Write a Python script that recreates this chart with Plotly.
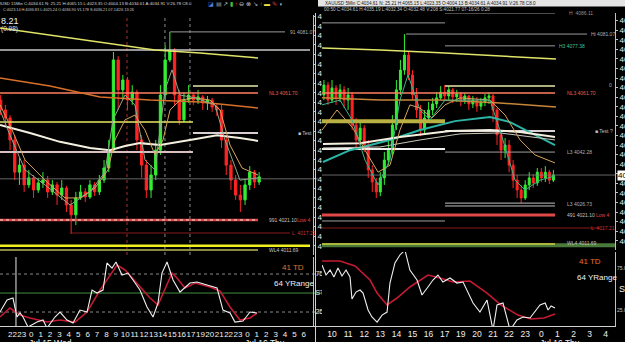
import plotly.graph_objects as go

W, H = 625, 342
def PX(x): return x / W
def PY(y): return 1 - y / H

FONT = "Liberation Sans, Arial, sans-serif"

# ---------------- LEFT: XAUUSD 15 min ----------------
L_hours = ["21","22","23","0","1","2","3","4","5","6","7","8","9","10","11","12","13","14",
           "15","16","17","19","20","21","22","23","0","1","2","3","4","5","6"]
L_time = [-0.25 + 0.5 * i for i in range(56)]
L_open = [4058.7,4055.6,4053.1,4046.2,4036.1,4038.3,4032.1,4034.3,4030.5,4032.7,4033.6,4029.9,4032.1,4028.9,
          4031.1,4025.8,4022.7,4028.0,4029.9,4028.3,4032.1,4029.9,4033.6,4037.4,4043.0,4071.3,4061.9,4065.0,
          4058.7,4061.2,4046.2,4038.3,4030.5,4035.2,4043.0,4060.3,4071.3,4074.4,4060.3,4052.5,4058.7,4060.3,
          4058.7,4059.7,4057.8,4058.7,4056.5,4055.6,4046.2,4038.3,4033.6,4028.9,4027.4,4032.1,4036.1,4033.0]
L_close = [4055.6,4053.1,4046.2,4036.1,4038.3,4032.1,4034.3,4030.5,4032.7,4033.6,4029.9,4032.1,4028.9,4031.1,
           4025.8,4022.7,4028.0,4029.9,4028.3,4032.1,4029.9,4033.6,4037.4,4043.0,4071.3,4061.9,4065.0,4058.7,
           4061.2,4046.2,4038.3,4030.5,4035.2,4043.0,4060.3,4071.3,4074.4,4060.3,4052.5,4058.7,4060.3,4058.7,
           4059.7,4057.8,4058.7,4056.5,4055.6,4046.2,4038.3,4033.6,4028.9,4027.4,4032.1,4036.1,4033.0,4034.6]
L_high = [4060.3,4057.2,4054.0,4047.7,4040.5,4039.9,4036.8,4035.2,4034.3,4036.1,4034.9,4033.6,4033.0,4033.6,
          4031.8,4027.4,4029.9,4032.1,4031.1,4033.6,4033.0,4035.2,4039.9,4046.2,4073.8,4072.5,4066.6,4066.0,
          4063.4,4062.0,4047.7,4039.9,4038.3,4046.2,4063.4,4076.0,4080.1,4075.0,4061.9,4061.2,4063.4,4061.2,
          4061.9,4060.3,4060.0,4059.4,4057.8,4057.2,4047.7,4039.9,4035.2,4032.1,4033.6,4038.0,4036.8,4036.1]
L_low = [4054.0,4050.9,4043.0,4033.6,4032.1,4029.9,4031.1,4028.0,4029.6,4031.1,4028.0,4028.9,4025.8,4027.4,
         4023.6,4016.7,4019.5,4027.4,4026.7,4027.7,4028.6,4028.9,4032.7,4036.1,4042.4,4055.6,4058.7,4055.6,
         4057.2,4043.0,4034.3,4028.0,4028.0,4033.6,4041.5,4058.7,4070.6,4057.2,4050.9,4051.8,4057.8,4057.2,
         4057.5,4055.6,4055.6,4055.0,4053.7,4043.7,4035.2,4030.5,4027.4,4023.6,4025.8,4030.5,4031.1,4032.1]

L_yel_t = [-0.32, 5.0, 10.32, 16.17, 20.96, 27.13]
L_yel_p = [4081.3, 4079.1, 4076.9, 4074.4, 4073.5, 4071.9]
L_org_t = [-0.32, 5.0, 10.32, 15.64, 20.96, 27.13]
L_org_p = [4065.6, 4063.1, 4059.7, 4058.7, 4058.1, 4056.2]
L_wht_t = [-0.32, 2.87, 6.06, 9.26, 11.38, 12.98, 14.57, 16.7, 19.89, 22.77, 25.21, 27.13]
L_wht_p = [4050.9, 4048.4, 4045.6, 4043.7, 4043.0, 4044.3, 4045.2, 4044.6, 4046.2, 4047.7, 4046.8, 4045.9]
L_tan_t = [-0.32,0.74,2.34,4.47,6.6,8.19,9.79,11.17,11.91,12.98,14.04,15.11,16.17,17.02,17.77,18.83,20.43,
           22.02,23.09,24.15,25.43,27.13]
L_tan_p = [4057.2,4050.9,4039.9,4033.6,4028.0,4028.0,4031.1,4036.8,4046.2,4052.5,4054.0,4049.3,4041.5,4046.2,
           4055.6,4058.7,4059.4,4058.7,4055.6,4044.6,4037.4,4035.2]
L_grn_t = [-0.32,0.74,2.34,4.47,7.13,9.26,10.85,11.7,12.98,14.04,15.11,16.17,17.23,17.98,18.83,20.43,22.55,
           23.62,25.21,27.13]
L_grn_p = [4055.6,4047.7,4036.8,4032.1,4025.8,4029.9,4036.1,4052.5,4060.3,4057.2,4039.9,4036.8,4061.9,4068.2,
           4060.3,4059.4,4057.2,4046.2,4033.6,4034.3]

# levels: price, start, end, colour, width
L_levels = [
    (4074.4, -0.32, 32.66, "#c8c8c8", 1.5),
    (4080.1, 17.77, 30.0, "#9a9a9a", 1),
    (4063.1, 20.21, 27.13, "#e8e8a8", 1.5),
    (4060.9, -0.32, 27.13, "#ff7f60", 1.5),
    (4051.8, -0.32, 20.21, "#e8e860", 1.5),
    (4042.4, -0.32, 20.21, "#d8c0c0", 2),
    (4048.4, 20.21, 27.13, "#d8d0d0", 2),
    (4034.0, -0.32, 33.5, "#808080", 0.8),
    (4021.1, -0.32, 27.13, "#e04848", 2.5),
    (4017.0, 7.34, 30.53, "#8b1a1a", 1),
    (4013.0, -0.32, 32.66, "#f0f020", 2.5),
    (4011.7, -0.32, 27.13, "#b8b850", 1.5),
]
L_vlines = [(13.19, "#a03030"), (17.23, "#8a8a8a"), (19.89, "#8a8a8a")]

L_osc_w_t = [-0.32,0.43,1.06,1.49,1.81,2.13,2.66,3.62,4.26,4.68,5.53,6.06,6.81,7.45,8.19,8.94,9.47,10.0,10.64,
             11.06,11.6,12.02,12.66,13.3,13.83,14.57,15.32,15.96,16.49,16.91,17.45,18.09,18.83,19.36,19.89,
             20.64,21.7,22.77,23.4,24.15,24.68,25.53,26.28,27.02]
L_osc_w_v = [25.0,40.8,43.4,18.4,23.7,18.4,5.3,11.8,14.5,3.9,18.4,25.0,14.5,10.5,27.6,25.0,53.9,50.0,53.9,
             89.5,82.9,90.8,73.7,76.3,67.1,53.9,31.6,18.4,36.8,76.3,90.8,67.1,51.3,57.9,63.2,64.5,60.5,56.6,
             27.6,23.7,11.8,13.2,25.0,23.7]
L_osc_r_t = [-0.32,0.74,1.81,2.87,4.68,6.06,7.66,8.94,10.32,11.38,12.13,12.98,14.26,15.64,16.49,17.98,18.51,
             19.36,20.43,22.02,23.09,24.15,25.21,26.28,27.02]
L_osc_r_v = [18.4,30.3,21.1,17.1,11.8,14.5,11.8,25.0,53.9,73.7,86.8,80.3,63.2,43.4,34.2,76.3,69.7,56.6,63.2,
             57.9,52.6,31.6,14.5,17.1,23.7]

# ---------------- RIGHT: XAUUSD 5 min ----------------
R_hours = ["10","11","12","13","14","15","16","17","19","20","21","22","23","0","1","2","3","4"]
R_time = [-0.5 + 0.25 * i for i in range(58)]
R_open = [4058.7,4061.8,4057.1,4060.9,4057.8,4060.3,4057.1,4058.7,4049.3,4044.6,4048.3,4043.0,4035.2,4031.4,
          4028.3,4032.7,4038.3,4041.4,4049.3,4060.3,4066.5,4071.2,4065.0,4058.7,4054.0,4047.7,4051.5,4054.0,
          4055.9,4057.8,4059.6,4058.4,4060.3,4058.1,4059.0,4057.1,4058.4,4055.9,4057.1,4055.2,4056.5,4057.8,
          4058.4,4054.0,4046.2,4041.4,4043.0,4036.7,4032.0,4028.9,4026.4,4030.5,4032.7,4031.1,4034.5,4032.7,
          4034.5,4032.0]
R_close = [4061.8,4057.1,4060.9,4057.8,4060.3,4057.1,4058.7,4049.3,4044.6,4048.3,4043.0,4035.2,4031.4,4028.3,
           4032.7,4038.3,4041.4,4049.3,4060.3,4066.5,4071.2,4065.0,4058.7,4054.0,4047.7,4051.5,4054.0,4055.9,
           4057.8,4059.6,4058.4,4060.3,4058.1,4059.0,4057.1,4058.4,4055.9,4057.1,4055.2,4056.5,4057.8,4058.4,
           4054.0,4046.2,4041.4,4043.0,4036.7,4032.0,4028.9,4026.4,4030.5,4032.7,4031.1,4034.5,4032.7,4034.5,
           4032.0,4033.6]
R_high = [4063.4,4062.8,4063.4,4061.8,4062.1,4061.5,4060.9,4059.6,4051.5,4050.2,4049.3,4044.6,4036.7,4032.7,
          4034.5,4040.8,4044.6,4052.4,4063.4,4069.7,4077.8,4072.2,4066.5,4060.9,4055.6,4054.0,4056.5,4057.8,
          4059.6,4061.5,4061.8,4061.5,4060.9,4060.3,4059.6,4059.3,4058.7,4058.4,4058.1,4057.8,4059.0,4059.6,
          4059.0,4054.6,4047.7,4045.2,4044.6,4038.3,4033.6,4030.5,4032.0,4034.5,4033.9,4035.8,4035.8,4036.4,
          4035.2,4035.2]
R_low = [4057.1,4055.6,4056.2,4055.6,4056.5,4054.6,4054.0,4047.7,4042.1,4043.0,4040.8,4032.7,4028.3,4026.4,
         4027.0,4030.5,4036.7,4039.9,4047.7,4058.7,4065.0,4063.4,4057.1,4051.5,4045.8,4046.5,4050.2,4052.4,
         4054.6,4057.1,4057.1,4057.1,4056.2,4056.5,4055.2,4055.9,4054.0,4054.6,4053.4,4054.0,4055.2,4055.9,
         4050.2,4043.0,4038.3,4038.9,4034.5,4029.5,4026.4,4024.8,4025.8,4028.9,4029.5,4030.2,4031.4,4031.4,
         4030.8,4031.4]

R_yel_t = [-0.62, 2.98, 6.71, 10.43, 13.91]
R_yel_p = [4073.4, 4072.8, 4071.9, 4070.9, 4070.0]
R_org_t = [-0.62, 2.98, 6.71, 10.43, 13.91]
R_org_p = [4057.8, 4057.1, 4057.1, 4056.2, 4054.9]
R_teal_t = [-0.56, 1.12, 3.6, 5.47, 7.64, 9.81, 11.06, 12.3, 13.85]
R_teal_p = [4037.7, 4041.4, 4044.6, 4047.7, 4050.5, 4051.8, 4050.2, 4047.1, 4043.0]
R_wht_t = [-0.56, 1.74, 4.22, 7.33, 9.81, 11.68, 13.85]
R_wht_p = [4043.3, 4043.6, 4045.5, 4047.4, 4047.7, 4047.1, 4045.5]
R_wht2_t = [-0.56, 2.98, 5.47, 7.95, 10.43, 13.85]
R_wht2_p = [4042.1, 4042.4, 4044.6, 4046.5, 4046.8, 4044.6]
R_tan_t = [-0.62,0.31,1.3,2.05,2.86,3.6,4.22,4.84,5.47,6.21,7.02,7.95,9.81,10.75,11.68,12.61,13.85]
R_tan_p = [4047.7,4054.0,4048.3,4041.4,4034.5,4036.7,4047.7,4055.6,4054.6,4051.5,4055.6,4057.8,4057.1,4052.4,
           4044.6,4039.9,4037.4]
R_grn_t = [-0.62,0.5,1.24,2.05,2.86,3.6,4.22,4.72,5.47,6.09,7.02,8.57,9.81,10.43,11.37,11.99,12.92,13.85]
R_grn_p = [4055.6,4057.1,4050.9,4038.3,4030.5,4038.3,4057.1,4065.0,4054.0,4050.9,4057.1,4057.1,4057.1,4047.7,
           4032.0,4028.9,4032.0,4033.3]

R_levels = [
    (4081.3, -0.62, 7.02, "#9a9a9a", 1),
    (4084.4, 7.02, 13.85, "#9a9a9a", 1),
    (4077.8, 4.6, 15.84, "#9a9a9a", 1),
    (4074.1, 7.02, 13.85, "#9a9a9a", 1),
    (4061.5, 7.02, 13.85, "#e8e8a8", 1.5),
    (4059.3, -0.62, 13.85, "#ff7f60", 1.5),
    (4050.5, -0.62, 7.02, "#b8b040", 4),
    (4047.4, 7.02, 13.85, "#d8d0d0", 2),
    (4041.8, -0.62, 7.02, "#f0f0f0", 2),
    (4040.8, 7.02, 13.85, "#a0a0a0", 1),
    (4033.6, -0.62, 17.58, "#808080", 0.8),
    (4024.8, 7.02, 13.85, "#c0c0c0", 1),
    (4023.9, 7.02, 13.85, "#c0c0c0", 1),
    (4021.1, -0.62, 13.85, "#e04848", 3),
    (4019.2, -0.62, 7.02, "#a0a0a0", 1),
    (4017.0, -0.62, 16.65, "#8b1a1a", 1),
    (4011.6, -0.62, 17.58, "#4a7a3a", 4),
    (4012.0, -0.62, 13.85, "#d0d040", 1.5),
]
R_vlines = [(0.0, "#7a7a7a"), (4.04, "#7a7a7a"), (7.02, "#7a7a7a")]

R_osc_w_t = [-0.62,-0.37,-0.12,0.12,0.37,0.62,0.87,1.12,1.24,1.49,1.74,1.93,2.24,2.48,2.8,3.11,3.42,3.6,3.91,
             4.22,4.53,4.84,5.28,5.59,5.96,6.27,6.58,6.89,7.33,7.76,8.14,8.45,8.76,9.19,9.63,10.0,10.25,10.62,
             11.06,11.49,11.86,12.3,12.61,12.92,13.24,13.42,13.61,13.85]
R_osc_w_v = [78.6,66.7,72.6,64.3,75.0,65.5,72.6,64.3,38.1,46.4,48.8,45.2,25.0,16.7,10.7,19.0,22.6,57.1,81.0,
             90.5,96.4,72.6,60.7,42.9,52.4,60.7,66.7,58.3,63.1,57.1,58.3,45.2,33.3,22.6,36.9,1.2,31.0,33.3,
             1.2,13.1,16.7,15.5,22.6,31.0,33.3,25.0,29.8,27.4]
R_osc_r_t = [-0.62,0.5,1.43,2.36,2.8,3.42,4.04,4.84,5.96,6.71,7.52,8.57,9.63,10.5,11.55,12.36,13.17,13.85]
R_osc_r_v = [83.3,83.3,77.4,60.7,45.2,31.0,39.3,52.4,66.7,63.1,58.3,59.5,45.2,31.0,19.0,14.3,15.5,20.2]

fig = go.Figure()

def add_line(x, y, xa, ya, color, width, dash="solid"):
    fig.add_trace(go.Scatter(x=x, y=y, xaxis=xa, yaxis=ya, mode="lines",
                             line=dict(color=color, width=width, dash=dash),
                             hoverinfo="skip", showlegend=False))

for p, t0, t1, c, w in L_levels:
    add_line([t0, t1], [p, p], "x", "y", c, w)
add_line([-0.32, 27.13], [4021.1, 4021.1], "x", "y", "#ffffff", 0.8, "dot")
for p, t0, t1, c, w in R_levels:
    add_line([t0, t1], [p, p], "x3", "y3", c, w)

add_line(L_yel_t, L_yel_p, "x", "y", "#e0e468", 1.5)
add_line(L_org_t, L_org_p, "x", "y", "#d8702a", 1.5)
add_line(L_wht_t, L_wht_p, "x", "y", "#f4f0e0", 2)
add_line(L_tan_t, L_tan_p, "x", "y", "#d8a45a", 1)
add_line(L_grn_t, L_grn_p, "x", "y", "#8ea88a", 1)
add_line(R_yel_t, R_yel_p, "x3", "y3", "#e0e468", 1.5)
add_line(R_org_t, R_org_p, "x3", "y3", "#c8863a", 1.5)
add_line(R_teal_t, R_teal_p, "x3", "y3", "#2cb4a4", 2)
add_line(R_wht_t, R_wht_p, "x3", "y3", "#f4f0e0", 2)
add_line(R_wht2_t, R_wht2_p, "x3", "y3", "#c8c8b8", 1)
add_line(R_tan_t, R_tan_p, "x3", "y3", "#d8a45a", 1)
add_line(R_grn_t, R_grn_p, "x3", "y3", "#3cb48c", 1)

cs_style = dict(increasing=dict(line=dict(color="#33ee33", width=1), fillcolor="#33ee33"),
                decreasing=dict(line=dict(color="#ff2424", width=1), fillcolor="#ff2424"),
                whiskerwidth=0, hoverinfo="skip", showlegend=False)
fig.add_trace(go.Candlestick(x=L_time, open=L_open, high=L_high, low=L_low, close=L_close,
                             xaxis="x", yaxis="y", **cs_style))
fig.add_trace(go.Candlestick(x=R_time, open=R_open, high=R_high, low=R_low, close=R_close,
                             xaxis="x3", yaxis="y3", **cs_style))

add_line(L_osc_r_t, L_osc_r_v, "x2", "y2", "#c41a32", 1.6)
add_line(L_osc_w_t, L_osc_w_v, "x2", "y2", "#f0f0f0", 1.1)
add_line(R_osc_r_t, R_osc_r_v, "x4", "y4", "#c41a32", 1.6)
add_line(R_osc_w_t, R_osc_w_v, "x4", "y4", "#f0f0f0", 1.1)

shapes = []
for t, c in L_vlines:
    shapes.append(dict(type="line", xref="x", yref="y domain", x0=t, x1=t, y0=0, y1=1,
                       line=dict(color=c, width=1, dash="dot"), layer="below"))
for t, c in R_vlines:
    shapes.append(dict(type="line", xref="x3", yref="y3 domain", x0=t, x1=t, y0=0, y1=1,
                       line=dict(color=c, width=1, dash="dot"), layer="below"))
for xa, ya in (("x2", "y2"), ("x4", "y4")):
    for v, c, d in ((75, "#8a8a8a", "dot"), (25, "#8a8a8a", "dot"), (50, "#3f8f3f", "solid")):
        shapes.append(dict(type="line", xref=xa + " domain", yref=ya, x0=0, x1=1, y0=v, y1=v,
                           line=dict(color=c, width=1, dash=d), layer="below"))
shapes.append(dict(type="line", xref="x2", yref="y2 domain", x0=1.38, x1=1.38, y0=0, y1=1,
                   line=dict(color="#e8e8e8", width=1), layer="below"))
shapes.append(dict(type="line", xref="paper", yref="paper", x0=PX(315.5), x1=PX(315.5), y0=0, y1=PY(13),
                   line=dict(color="#cfcfcf", width=1), layer="above"))
shapes.append(dict(type="rect", xref="paper", yref="paper", x0=PX(318), x1=1, y0=PY(6.5), y1=1,
                   fillcolor="#e4e4e4", line=dict(width=0), layer="above"))

ann = []
def txt(x, y, s, color="#c8c8c8", size=5, xanchor="left", bg=None):
    d = dict(x=PX(x), y=PY(y), xref="paper", yref="paper", text=s, showarrow=False,
             xanchor=xanchor, yanchor="middle", font=dict(size=size, color=color, family=FONT))
    if bg:
        d["bgcolor"] = bg
        d["borderpad"] = 0
    ann.append(d)

txt(-10, 3.5, "XAUUSD 15Min C:4034.61 N: 25.21 H:4065.15 L:4023.35 O:4004.13 B:4034.61 A:4034.91 V:26.78 C8.0",
    "#d8d8d8", 4.3)
txt(1, 10, "C:4023.14 H:4036.83 L:4025.24 O:4036.90 V1.178 S:4036.21 07-14/26 13:26", "#c8c8c8", 3.8)
icons = ("<span style='color:#4a7fe0'>◪</span> <span style='color:#9a9a9a'>▤</span> "
         "<span style='color:#d8d8d8'>↗</span> <span style='color:#3cc43c'>▮</span> "
         "<span style='color:#e03030'>↑</span> <span style='color:#c8c8c8'>⊖</span> "
         "<span style='color:#c8c8c8'>⊗</span> <span style='color:#c8c8c8'>↘</span> "
         "<span style='color:#e03030'>↑</span> <span style='color:#f0e040'>▬</span> "
         "<span style='color:#e03030'>✎</span> <span style='color:#c8c8c8'>◑</span>")
txt(206, 4, icons, size=6)
txt(323, 3.3, "XAUUSD 5Min C:4034.61 N: 25.21 H:4065.15 L:4023.35 O:4004.13 B:4034.61 A:4034.91 V:26.78 C8.0",
    "#202020", 4.6)
txt(322, 10, "00:50 C:4034.61 H:4035.19 L:4032.34 O:4032.48 V:208 S:4021.77 07-16/26 0:28", "#c0c0c0", 4.6)
txt(-1, 21, "8.21", "#f0f0f0", 9)
txt(-1, 28.5, "(0.98)", "#e0e0e0", 6.5)

for s, x, y, c in [("91 4081.07", 288, 32, "#b0b0b0"), ("NL3 4061.70", 267, 93, "#e06050"),
                   ("■ Test", 296, 133, "#c0c0c0"), ("991 4021.10", 267, 220, "#c0c0c0"),
                   ("Low 4", 295, 220, "#e04040"), ("L  4017.21", 290, 233, "#d03030"),
                   ("WL4 4011.69", 267, 250, "#c0c0c0"),
                   ("H  4086.11", 567, 13, "#909090"), ("Hi 4081.07", 589, 34, "#b0b0b0"),
                   ("H3 4077.38", 557, 46, "#40c0a0"), ("0", 607, 85, "#b0b0b0"),
                   ("NL3 4061.70", 565, 93, "#e06050"), ("■ Test ?", 593, 131, "#c0c0c0"),
                   ("L3 4042.28", 565, 152, "#b0b0b0"), ("L3 4026.73", 565, 204, "#b0b0b0"),
                   ("491 4021.10", 565, 215, "#c0c0c0"), ("Low 4", 594, 215, "#e04040"),
                   ("L  4017.21", 589, 228, "#d03030"), ("WL4 4011.69", 565, 243, "#c0c0c0")]:
    txt(x, y, s, c, 5)

txt(293, 267, "41 TD", "#e07030", 8, "center")
txt(294, 283, "64 YRange", "#f0f0f0", 8, "center")
txt(590, 261, "41 TD", "#e07030", 8, "center")
txt(597, 277, "64 YRange", "#f0f0f0", 8, "center")
txt(617, 289, "ST", "#f0f0f0", 9)
txt(617, 175, "4034.61", "#000000", 8, bg="#ffffff")
txt(50, 342.5, "Jul 15 Wed", "#f0f0f0", 8.5, "center")
txt(265, 342.5, "Jul 16 Thu", "#f0f0f0", 8.5, "center")
txt(560, 343, "Jul 16 Thu", "#f0f0f0", 8.5, "center")

ax_common = dict(showgrid=False, zeroline=False, automargin=False)
fig.update_layout(
    width=W, height=H, margin=dict(l=0, r=0, t=0, b=0, pad=0, autoexpand=False),
    paper_bgcolor="black", plot_bgcolor="black", showlegend=False,
    font=dict(family=FONT, color="#d0d0d0"),
    xaxis=dict(domain=[0, PX(325)], range=[-3 / 9.4, 322 / 9.4], anchor="y", showticklabels=False,
               ticks="", rangeslider=dict(visible=False), **ax_common),
    yaxis=dict(domain=[PY(255), PY(15)], range=[4010.1, 4085.4], anchor="free", position=PX(313),
               side="right", tick0=4010, dtick=3, tickformat=".2f", ticks="outside", ticklen=2,
               tickcolor="#c0c0c0", showline=True, linecolor="#c0c0c0",
               tickfont=dict(size=8, color="#e8e8e8"), **ax_common),
    xaxis2=dict(domain=[0, PX(325)], range=[-3 / 9.4, 322 / 9.4], anchor="y2", tickmode="array",
                tickvals=list(range(len(L_hours))), ticktext=L_hours, ticks="", showline=True,
                tickangle=0, linecolor="#d0d0d0", tickfont=dict(size=8, color="#f0f0f0"), **ax_common),
    yaxis2=dict(domain=[PY(326), PY(257)], range=[6.6, 97.4], anchor="free", position=PX(313),
                side="right", tickvals=[25, 50, 75], ticktext=["25.0", "ST", "75.0"], ticks="",
                showline=True, linecolor="#c0c0c0", tickfont=dict(size=7, color="#e8e8e8"), **ax_common),
    xaxis3=dict(domain=[PX(322), PX(615)], range=[-10 / 16.1, 283 / 16.1], anchor="y3",
                showticklabels=False, ticks="", rangeslider=dict(visible=False), **ax_common),
    yaxis3=dict(domain=[PY(250), PY(13)], range=[4010.1, 4084.4], anchor="x3", side="right",
                tick0=4010, dtick=3, tickformat=".2f", ticks="outside", ticklen=2, tickcolor="#c0c0c0",
                showline=True, linecolor="#c0c0c0", tickfont=dict(size=8, color="#e8e8e8"), **ax_common),
    xaxis4=dict(domain=[PX(322), PX(615)], range=[-10 / 16.1, 283 / 16.1], anchor="y4", tickmode="array",
                tickvals=list(range(len(R_hours))), ticktext=R_hours, ticks="", showline=True,
                tickangle=0, linecolor="#d0d0d0", tickfont=dict(size=8.5, color="#f0f0f0"), **ax_common),
    yaxis4=dict(domain=[PY(326), PY(252)], range=[6.0, 94.05], anchor="x4", side="right",
                tickvals=[25, 75], ticktext=["25.0", "75.0"], ticks="", showline=True,
                linecolor="#c0c0c0", tickfont=dict(size=5, color="#c8c8c8"), **ax_common),
    shapes=shapes, annotations=ann,
)

fig.write_html("out.html")
